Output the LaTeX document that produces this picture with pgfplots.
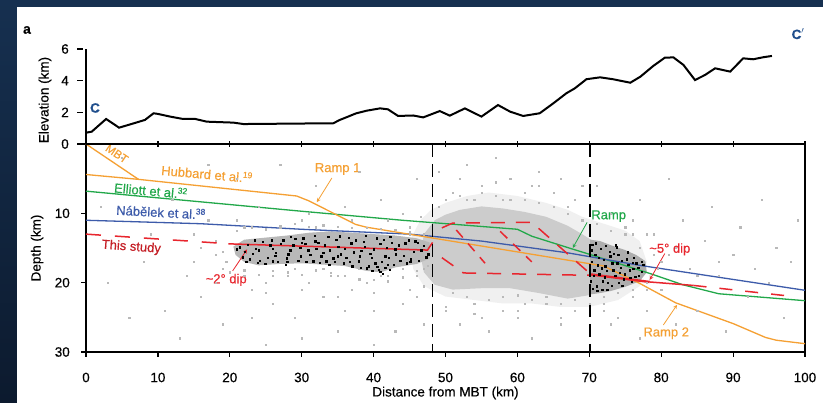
\documentclass[border=0pt]{standalone}
\usepackage{fontspec}
\setmainfont{Liberation Sans}[FakeBold=0.4]
\usepackage{pgfplots}
\pgfplotsset{compat=1.18}

\definecolor{orng}{HTML}{F5A033}
\definecolor{grn}{HTML}{22A84A}
\definecolor{blu}{HTML}{3D5BAA}
\definecolor{rd}{HTML}{E8262E}
\definecolor{cblue}{HTML}{1F4E8C}
\definecolor{navytop}{HTML}{163050}
\definecolor{navybot}{HTML}{0C1A2E}

\pgfplotsset{
  every axis/.append style={
    scale only axis, width=719pt, xmin=0, xmax=100,
    axis line style={line width=1.2pt, black},
    tick style={line width=1.2pt, black},
    major tick length=5pt,
    /pgf/number format/assume math mode=true,
    ticklabel style={font=\fontsize{13.5}{15}\selectfont},
    label style={font=\fontsize{13.5}{15}\selectfont},
  },
}
\tikzset{ann/.style={font=\fontsize{13}{15}\selectfont, inner sep=0pt}}
\newcommand{\sref}[1]{\raisebox{4.5pt}{\fontsize{8.5}{9}\selectfont #1}}

\begin{document}
\begin{tikzpicture}
\shade[top color=navytop, bottom color=navybot] (0pt,0pt) rectangle (823pt,403pt);
\fill[white] (17pt,0pt) rectangle (823pt,396pt);

% ---------- depth section ----------
\begin{axis}[
  at={(86pt,51pt)}, anchor=south west, height=208pt,
  ymin=0, ymax=30, y dir=reverse, clip=false,
  tick align=outside, xtick pos=bottom, ytick pos=left,
  xtick={0,10,...,100}, ytick={0,10,20,30}, yticklabels={,10,20,30},
  xticklabel style={anchor=north, inner sep=0pt, yshift=-15.5pt},
  yticklabel style={anchor=east, inner sep=0pt, xshift=-11pt},
  xlabel={Distance from MBT (km)}, ylabel={Depth (km)},
  xlabel style={at={(axis description cs:0.5,-0.197)}, anchor=center},
  ylabel style={at={(axis description cs:-0.068,0.5)}, anchor=center},
]
% grey cloud, outer fringe and dense core
\addplot[fill=gray!12, draw=none] coordinates {
 (45,14)(46.5,11)(48,9.5)(50,8.5)(53,7.5)(56,7)(60,7.5)(64,8.5)(67,9.5)(69,10.5)(72,11.5)(75,12.5)(77,14)(78,17)(77,20.5)(74,22.5)(70,23.5)
 (66,23.5)(62,23)(58,23)(54,22.5)(50,22)(47,20.5)(45.5,18)} -- cycle;
\addplot[fill=gray!40, draw=none] coordinates {
 (47,13)(48.5,11)(50,10.2)(52,9.5)(55,9)(58,9.3)(61,9.8)(64,10.5)(67,11.8)(69,13)(70.5,14)(72,15)(73,17.5)(72,20)(70,21.8)
 (67,22.3)(63,21.5)(59,20.8)(55,20.8)(51,21)(48.5,20.3)(47,18.5)(46.5,16)} -- cycle;
% sparse grey events
\addplot[only marks, mark=square*, mark size=0.6pt, gray!55] coordinates {
 (3,20)(5,2)(8,17)(11,24)(12,8)(14,19)(15,13)(16,22)(17,3)(18,16)(19,26)(13,28)(9,13)(6,25)(2,9)(17,11)(19,18)(15,17)(18,20)(16,15)
 (21,5)(22,19)(23,21)(24,9)(25,20)(26,23)(27,3)(28,19)(29,25)(30,11)(31,20)(32,6)(33,22)(34,19)(35,27)(36,9)(37,21)(38,4)(39,20)(40,24)
 (41,8)(42,19)(43,27)(44,10)(45,21)(46,5)(47,18)(21,11)(24,17)(26,19)(29,18)(31,10)(33,18)(35,19)(38,18)(41,19)(44,18)(46,19)(22,12)(27,12)
 (32,12)(37,11)(42,11)(45,12)(25,29)(30,28)(40,29)(47,26)(36,24)(23,25)
 (49,4)(51,7)(53,3)(55,6)(57,2)(59,5)(61,8)(63,4)(65,7)(67,9)(69,6)(50,24)(52,26)(54,23)(56,27)(58,24)(60,25)(62,28)(64,23)(66,26)(68,24)
 (53,8)(58,8)(62,6)(66,5)(55,25)(61,23)
 (71,6)(72,23)(73,10)(74,25)(75,12)(76,22)(77,8)(78,24)(79,13)(80,21)(81,16)(82,26)(83,11)(84,18)(85,24)(86,14)(87,9)(88,19)(89,27)(90,16)
 (91,12)(92,22)(93,18)(94,8)(95,20)(96,15)(97,25)(98,17)(99,11)(74,18)(76,13)(78,21)(80,17)(82,15)(85,19)(88,17)(73,26)(77,28)(81,5)
 (45,13)(45.5,16)(46,19)(46.5,10.5)(47,20.5)(49,9)(50,8)(51,21.5)(52,7.5)(53,22)(54,8)(55,7)(56,22.5)(57,7.5)(58,22)(59,8)(60,21.8)
 (61,7)(62,22.5)(63,8.5)(64,22)(65,9)(66,23)(67,10)(68,22.5)(69,11)(70,23)(71,11.5)(72,22)(73,12.5)(74,21.5)(75,13)(76,21)(77,15)
 (78,20)(79,16)(79.5,18)(50,23.5)(54,24.5)(60,24)(66,25)(72,24)(57,5.5)(63,6)(52,5)(68,8)(44.5,17)(46,22)(76,11)(78,13)
 (18,14)(19,15.5)(19.5,17)(20,18.5)(21,12.5)(22,18.2)(23,12)(24,18.8)(25,12.3)(26,18.3)(27,11.8)(28,18.5)(29,11.5)(30,18.8)(31,11.9)
 (32,18.2)(33,11.7)(34,18.6)(35,11.9)(36,19)(37,12.1)(38,19.5)(39,12.1)(40,19.6)(41,12.2)(42,19.8)(43,12.4)(44,19.2)(45,12.7)(46,18.3)
 (47,13.0)(47.5,17.5)(30,21)(35,22)(40,21.5)(25,21.5)(44,23)
};
% black clusters
\addplot[fill=black!28, draw=none] coordinates {
 (20.5,14.8)(22,13.8)(25,13.5)(28,13.2)(31,12.8)(34,12.6)(37,12.8)(40,13.0)(43,13.2)(46,13.6)(47.8,14.2)(47.8,16.5)(46,17.3)
 (43,17.8)(41,18.5)(39,18.3)(36,17.6)(33,17.4)(30,17.2)(27,17.3)(24,17.5)(22,17)(20.8,16)} -- cycle;
\addplot[fill=black!32, draw=none] coordinates {
 (70.1,13.8)(71.5,14.0)(73,14.6)(75,15.3)(76.5,16.0)(77.8,16.9)(78,18.5)(77,19.8)(75,20.6)(73,21.2)(71.5,21.5)(70.1,21.7)} -- cycle;
\addplot[only marks, mark=square*, mark size=0.7pt, black] coordinates {
 (21,15.2)(21.8,16.3)(22.5,14.5)(23.2,15.8)(23.9,17.1)(24.6,14.1)(25.3,16.4)(26,15.1)(26.7,17.0)(27.4,13.9)(28.1,15.9)(28.8,14.6)
 (29.5,16.8)(30.2,13.6)(30.9,15.3)(31.6,16.9)(32.3,14.2)(33,15.7)(33.7,13.4)(34.4,16.5)(35.1,14.8)(35.8,17.2)(36.5,13.5)(37.2,15.6)
 (37.9,16.9)(38.6,14.1)(39.3,17.6)(40,15.2)(40.7,18.1)(41.4,13.8)(42.1,16.4)(42.8,17.4)(43.5,14.6)(44.2,16.1)(44.9,13.9)(45.6,15.5)
 (46.3,16.8)(47,14.7)(47.6,15.9)(22.1,15.5)(24.2,16.8)(25.8,13.9)(27.9,16.5)(29.8,15.0)(31.9,14.0)(33.4,16.9)(35.4,15.9)(36.9,14.3)
 (38.3,15.4)(39.7,16.4)(40.4,13.6)(41.8,15.0)(43.1,15.9)(44.6,17.2)(46.1,14.2)(23.5,13.9)(26.4,15.7)(28.5,13.4)(30.6,17.0)(32.7,16.2)
 (34.8,13.8)(36.2,16.4)(38.9,13.2)(41.1,17.0)(42.5,14.2)(45.2,16.6)(39.0,17.9)(40.9,18.4)(41.6,17.8)(42.2,18.1)
 (21.4,14.9)(22.8,16.6)(23.6,15.1)(24.9,17.3)(25.6,14.6)(26.3,16.1)(27.1,14.4)(27.8,17.4)(28.4,15.3)(29.1,13.7)(29.9,16.2)(30.5,14.4)
 (31.2,16.0)(31.8,13.2)(32.5,17.1)(33.2,14.6)(33.9,15.3)(34.6,17.0)(35.3,13.3)(36.0,15.1)(36.7,17.0)(37.5,13.9)(38.1,16.2)(38.8,14.8)
 (39.5,15.8)(40.2,17.2)(40.9,14.4)(41.6,16.2)(42.3,13.4)(43.0,15.2)(43.7,16.8)(44.4,14.3)(45.1,17.0)(45.8,14.0)(46.6,15.3)(47.3,16.3)
 (39.8,18.3)(40.5,17.7)(41.3,18.7)(42.0,17.4)(38.2,17.8)(37.0,17.6)(35.0,16.2)(33.8,17.4)(32.0,15.1)(30.0,14.2)(28.0,17.0)(26.0,16.9)
 (24.0,15.3)(22.3,17.0)
 (70.4,14.5)(70.8,16.0)(71.2,17.5)(70.6,19.0)(71.0,20.5)(71.6,15.1)(72.0,16.7)(72.4,18.3)(71.9,19.8)(72.8,15.5)(73.2,17.2)(73.6,19.0)
 (73.1,20.4)(74.0,16.0)(74.4,17.8)(74.8,19.5)(75.2,16.6)(75.6,18.2)(76.0,17.1)(76.4,19.1)(76.8,17.8)(77.3,18.4)(70.3,17.0)(70.7,18.2)
 (71.4,18.8)(72.3,14.7)(73.8,14.9)(74.6,20.4)(75.9,19.9)(77.5,17.4)(70.5,20.9)(71.8,21.0)(72.6,20.0)(73.4,15.8)(74.2,18.6)(75.4,17.4)(76.2,16.4)
 (70.3,15.3)(70.9,14.3)(71.3,16.4)(71.7,17.9)(72.1,19.2)(72.5,21.0)(72.9,16.2)(73.3,18.2)(73.7,14.6)(74.1,20.0)(74.5,16.8)(74.9,18.8)
 (75.3,15.6)(75.7,19.3)(76.1,18.0)(76.5,17.2)(76.9,19.0)(77.3,17.0)(70.2,19.8)(71.1,21.2)(73.9,17.2)(72.2,17.6)
};
% published models
\addplot[grn, line width=1.3pt] coordinates {
 (0,6.8)(30,9.7)(44,11.0)(60,12.3)(62,13.3)(67.5,15.1)(70,15.9)(78.5,18.7)(83,20.3)(88,21.6)(100,22.6)};
\addplot[blu, line width=1.3pt] coordinates {
 (0,11.0)(16,11.5)(30,12.3)(45,13.0)(55,14.0)(67,15.7)(77,17.5)(100,21.1)};
\addplot[orng, line width=1.3pt] coordinates {(0,0)(7.3,5.1)};
\addplot[orng, line width=1.3pt] coordinates {
 (0,4.4)(7.3,5.1)(29.3,7.5)(31,8.2)(37.5,11.6)(39,12.0)(72,17.6)(77,20.1)(82,22.9)(90,25.9)(94.5,27.9)(96,28.3)(100,28.8)};
% this study
\addplot[rd, line width=1.5pt, dash pattern=on 15pt off 14pt] coordinates {(0,13.0)(20,14.4)};
\addplot[rd, line width=1.5pt] coordinates {(19.8,14.4)(47.5,15.3)(48.2,14.2)};
\addplot[rd, line width=1.5pt, dash pattern=on 14pt off 11pt] coordinates {(49.5,12.1)(51,11.4)(62,11.3)(70,18.6)};
\addplot[rd, line width=1.5pt, dash pattern=on 14pt off 11pt] coordinates {(49.5,16.4)(52.5,18.6)(68,18.9)(70,18.9)};
\addplot[rd, line width=1.5pt, dash pattern=on 10pt off 8pt] coordinates {(51.5,12.4)(55.5,17.2)};
\addplot[rd, line width=1.5pt, dash pattern=on 10pt off 8pt] coordinates {(57.6,12.6)(62,17.0)};
\addplot[rd, line width=2.4pt] coordinates {(70.1,18.8)(78.4,19.9)};
\addplot[rd, line width=1.5pt] coordinates {(78.4,19.9)(84.5,20.4)};
\addplot[rd, line width=1.5pt, dash pattern=on 13pt off 13pt] coordinates {(84.5,20.4)(97.5,21.9)};
% section boundaries
\addplot[black, line width=1.3pt, dash pattern=on 13pt off 7pt] coordinates {(48.2,0)(48.2,30)};
\addplot[black, line width=1.3pt, dash pattern=on 13pt off 7pt] coordinates {(70.1,0)(70.1,30)};
% labels
\node[ann, text=orng, rotate=-34, font=\fontsize{11.5}{13}\selectfont] at (axis cs:4.3,1.4) {MBT};
\node[ann, text=orng, rotate=-5] at (axis cs:16.8,4.3) {Hubbard et al.\sref{19}};
\node[ann, text=grn, rotate=-5] at (axis cs:9.0,6.7) {Elliott et al.\sref{32}};
\node[ann, text=blu, rotate=-3] at (axis cs:10.4,9.8) {Nábělek et al.\sref{38}};
\node[ann, text=rd!85!black, rotate=-4] at (axis cs:6.3,14.9) {This study};
\node[ann, text=rd] at (axis cs:19.5,19.6) {\textasciitilde2° dip};
\draw[rd, line width=0.8pt, -stealth] (axis cs:20.4,18.3) -- (axis cs:22.4,15.2);
\node[ann, text=orng] at (axis cs:35.0,3.6) {Ramp 1};
\draw[orng, line width=0.8pt, -stealth] (axis cs:34.2,4.9) -- (axis cs:32.1,8.4);
\node[ann, text=grn] at (axis cs:72.7,10.4) {Ramp};
\draw[grn, line width=0.8pt, -stealth] (axis cs:69.7,11.3) -- (axis cs:67.7,15.0);
\node[ann, text=rd] at (axis cs:81.2,15.2) {\textasciitilde5° dip};
\draw[rd, line width=0.8pt, -stealth] (axis cs:80.5,15.8) -- (axis cs:78.4,19.6);
\node[ann, text=orng] at (axis cs:80.7,27.3) {Ramp 2};
\draw[orng, line width=0.8pt, -stealth] (axis cs:80.3,26.1) -- (axis cs:82.2,23.2);
\end{axis}

% ---------- topography ----------
\begin{axis}[
  at={(86pt,259pt)}, anchor=south west, height=95pt,
  ymin=0, ymax=6, clip=false,
  axis x line=bottom, axis y line=left, axis line style={-},
  xtick={10,20,...,100}, xticklabels={}, major tick length=6pt,
  ytick={0,2,4,6},
  y tick style={xshift=-6pt},
  yticklabel style={anchor=east, inner sep=0pt, xshift=-14pt},
  ylabel={Elevation (km)},
  ylabel style={at={(axis description cs:-0.057,0.463)}, anchor=center},
]
\addplot[black, line width=2pt] coordinates {
 (0,0.71)(0.8,0.78)(2.8,1.58)(4.6,1.03)(6.6,1.3)(8.2,1.52)(9.4,1.94)(10.0,1.9)(11.7,1.73)(13.5,1.58)(15.2,1.58)(16.8,1.41)
 (20.5,1.35)(21.9,1.26)(34.4,1.31)(35.3,1.52)(37.6,1.94)(39.0,2.1)(40.9,2.25)(42.0,2.19)(43.4,1.77)(45.5,1.8)(46.9,1.68)
 (49.2,2.08)(50.6,1.79)(52.7,2.25)(55.0,1.73)(57.3,2.46)(59.0,2.04)(60.8,1.77)(63.1,1.94)(65.0,2.57)(66.8,3.2)(68.0,3.52)
 (69.6,4.09)(71.5,4.21)(73.3,4.09)(75.7,3.87)(77.1,4.25)(78.9,4.93)(80.5,5.45)(81.7,5.47)(83.1,4.99)(84.7,4.04)(86.1,4.36)
 (87.5,4.78)(88.6,4.67)(89.6,4.57)(91.4,5.41)(92.8,5.35)(94.2,5.48)(95.4,5.56)};
\end{axis}

\node[font=\bfseries\fontsize{14}{15}\selectfont, inner sep=0pt] at (27pt,373pt) {a};
\node[font=\bfseries\fontsize{13.5}{15}\selectfont, text=cblue, inner sep=0pt] at (95pt,295pt) {C};
\node[font=\bfseries\fontsize{13.5}{15}\selectfont, text=cblue, inner sep=0pt] at (798pt,369pt) {C$'$};
\pgfresetboundingbox
\useasboundingbox (0pt,0pt) rectangle (823pt,403pt);
\end{tikzpicture}
\end{document}
